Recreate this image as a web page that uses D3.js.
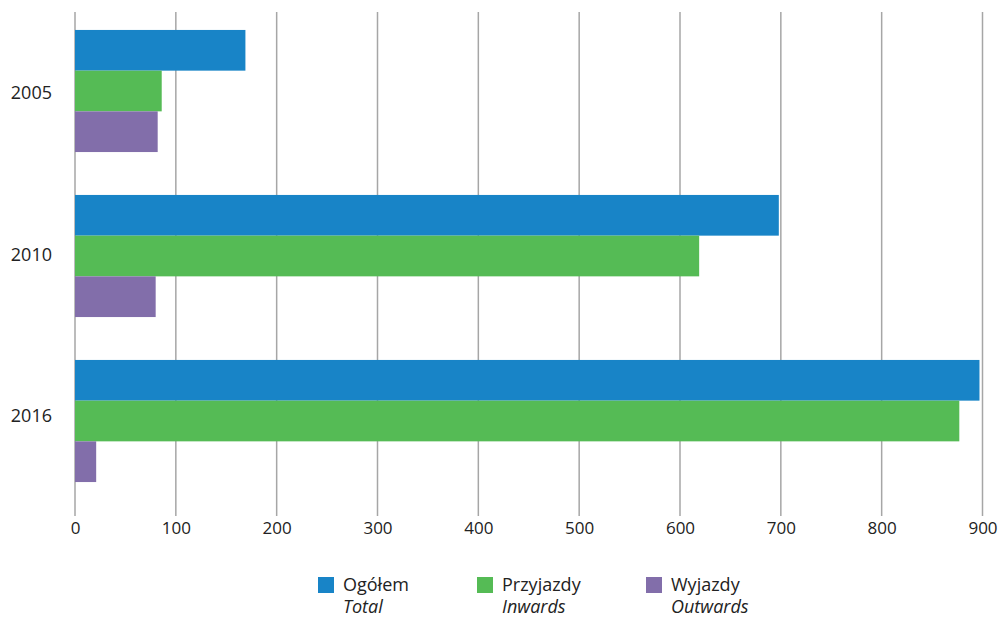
<!DOCTYPE html>
<html>
<head>
<meta charset="utf-8">
<script src="https://cdn.jsdelivr.net/npm/d3@7"></script>
<style>
  body { margin: 0; background: #fff; }
  text { font-family: "Open Sans", "Noto Sans", sans-serif; fill: #222; }
</style>
</head>
<body>
<svg id="chart" width="1003" height="618"></svg>
<script>
// data
var years = ['2005', '2010', '2016'];
var seriesKeys = ['total', 'inwards', 'outwards'];
var seriesPl = ['Ogółem', 'Przyjazdy', 'Wyjazdy'];
var seriesEn = ['Total', 'Inwards', 'Outwards'];
var total = [169, 698, 897];
var inwards = [86, 619, 877];
var outwards = [82, 80, 21];
var xTicks = [0, 100, 200, 300, 400, 500, 600, 700, 800, 900];
var colors = ['#1884c7', '#55bb55', '#826eaa'];

var values = { total: total, inwards: inwards, outwards: outwards };

var svg = d3.select('#chart');

var x = d3.scaleLinear().domain([0, 900]).range([75, 982.5]);

var y = d3.scaleBand().domain(years).range([8.5, 503.5])
    .paddingInner(0.26).paddingOuter(0.13);

// year labels in the original sit slightly off the bar groups
var yLabel = d3.scaleBand().domain(years).range([12.75, 497.25]);

var ySub = d3.scaleBand().domain(seriesKeys).range([0, y.bandwidth()]);

// vertical gridlines
svg.append('g').selectAll('line')
    .data(xTicks)
  .enter().append('line')
    .attr('x1', function(d) { return x(d); })
    .attr('x2', function(d) { return x(d); })
    .attr('y1', 12)
    .attr('y2', 516)
    .attr('stroke', '#a6a6a6')
    .attr('stroke-width', 1.5);

// bars
var groups = svg.append('g').selectAll('g')
    .data(years)
  .enter().append('g')
    .attr('transform', function(d) { return 'translate(0,' + y(d) + ')'; });

groups.selectAll('rect')
    .data(function(yr, i) {
      return seriesKeys.map(function(k, j) {
        return { key: k, value: values[k][i], color: colors[j] };
      });
    })
  .enter().append('rect')
    .attr('x', x(0))
    .attr('y', function(d) { return ySub(d.key); })
    .attr('height', ySub.bandwidth())
    .attr('width', function(d) { return x(d.value) - x(0); })
    .attr('fill', function(d) { return d.color; });

// x axis labels
var xAxis = d3.axisBottom(x).tickValues(xTicks).tickSize(0).tickPadding(0);
var gx = svg.append('g').attr('transform', 'translate(0,522)').call(xAxis);
gx.select('.domain').remove();
gx.selectAll('text')
    .attr('dy', '0.71em')
    .style('font-size', '17px')
    .style('font-family', '"Open Sans", sans-serif')
    .attr('fill', '#222');

// y axis labels
var yAxis = d3.axisLeft(yLabel).tickSize(0).tickPadding(0);
var gy = svg.append('g').attr('transform', 'translate(52,0)').call(yAxis);
gy.select('.domain').remove();
gy.selectAll('text')
    .style('font-size', '18px')
    .style('font-family', '"Open Sans", sans-serif')
    .attr('fill', '#222');

// legend
var legendX = [318, 477, 646];
var legend = svg.append('g').selectAll('g')
    .data(seriesKeys)
  .enter().append('g')
    .attr('transform', function(d, i) { return 'translate(' + legendX[i] + ',577)'; });

legend.append('rect')
    .attr('width', 16)
    .attr('height', 16)
    .attr('fill', function(d, i) { return colors[i]; });

legend.append('text')
    .attr('x', 25)
    .attr('y', 14)
    .style('font-size', '18px')
    .text(function(d, i) { return seriesPl[i]; });

legend.append('text')
    .attr('x', 25)
    .attr('y', 36)
    .style('font-size', '18px')
    .style('font-style', 'italic')
    .text(function(d, i) { return seriesEn[i]; });
</script>
</body>
</html>
